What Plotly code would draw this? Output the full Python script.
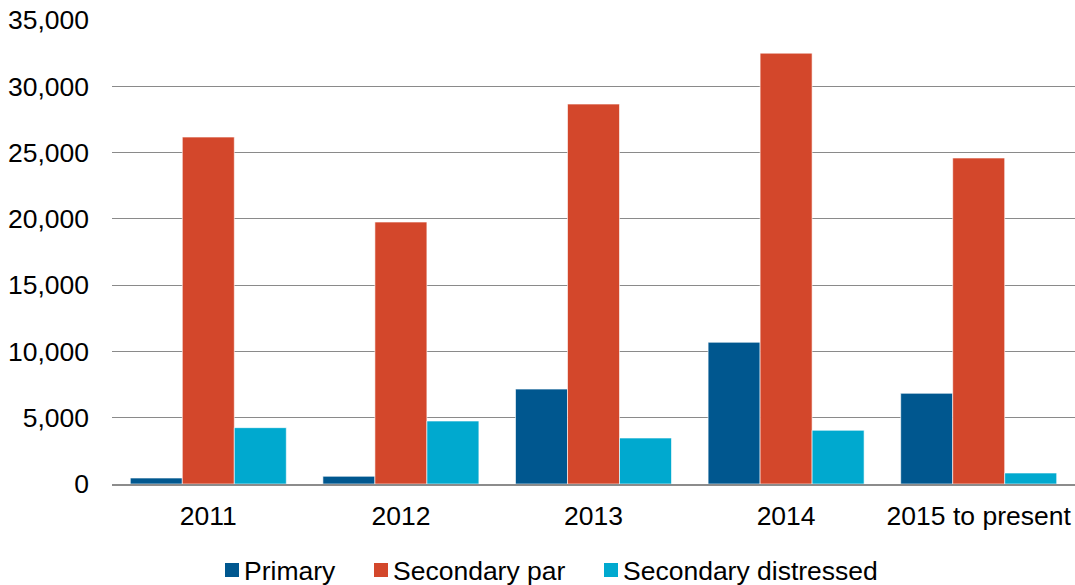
import plotly.graph_objects as go

categories = ["2011", "2012", "2013", "2014", "2015 to present"]
primary = [450, 580, 7160, 10690, 6840]
secondary_par = [26170, 19760, 28660, 32500, 24590]
secondary_distressed = [4250, 4750, 3470, 4050, 830]

series_names = ["Primary", "Secondary par", "Secondary distressed"]
series_values = [primary, secondary_par, secondary_distressed]
series_colors = ["#00578F", "#D3472B", "#00A9CF"]

FS = 26.5

# plot area in pixels (for legend placement)
L, R, T, B = 112, 1075, 20, 484
def px_x(px):
    return (px - L) / (R - L)
def px_y(py):
    return (B - py) / (B - T)

fig = go.Figure()
for name, vals, color in zip(series_names, series_values, series_colors):
    fig.add_trace(go.Bar(
        x=categories, y=vals, name=name, showlegend=False,
        marker=dict(color=color, line=dict(color="rgba(255,255,255,0.6)", width=1)),
    ))

# manual legend
legend_sq_left = [225, 374, 604]
shapes, annotations = [], []
for name, color, sx in zip(series_names, series_colors, legend_sq_left):
    shapes.append(dict(type="rect", xref="paper", yref="paper",
                       x0=px_x(sx), x1=px_x(sx + 14), y0=px_y(577), y1=px_y(563),
                       fillcolor=color, line=dict(width=0)))
    annotations.append(dict(text=name, xref="paper", yref="paper",
                            x=px_x(sx + 17), y=px_y(570.5), xanchor="left", yanchor="middle",
                            showarrow=False, font=dict(size=FS, color="#000000")))

fig.update_layout(
    width=1075, height=585,
    margin=dict(l=L, r=1075 - R, t=T, b=585 - B),
    paper_bgcolor="white", plot_bgcolor="white",
    barmode="group", bargap=0.19, bargroupgap=0,
    font=dict(family="Liberation Sans, Arial, sans-serif", size=FS, color="#000000"),
    showlegend=False,
    shapes=shapes, annotations=annotations,
)
fig.update_xaxes(
    showline=True, linecolor="#8C8C8C", linewidth=2,
    showgrid=False, ticks="", tickfont=dict(size=FS), ticklabelstandoff=7,
)
fig.update_yaxes(
    range=[0, 35000], tickvals=[0, 5000, 10000, 15000, 20000, 25000, 30000, 35000],
    tickformat=",", showgrid=True, gridcolor="#8A8A8A", gridwidth=1.4,
    zeroline=False, showline=False, ticks="", ticklabelstandoff=22,
    tickfont=dict(size=FS),
)

fig.write_html("out.html")
